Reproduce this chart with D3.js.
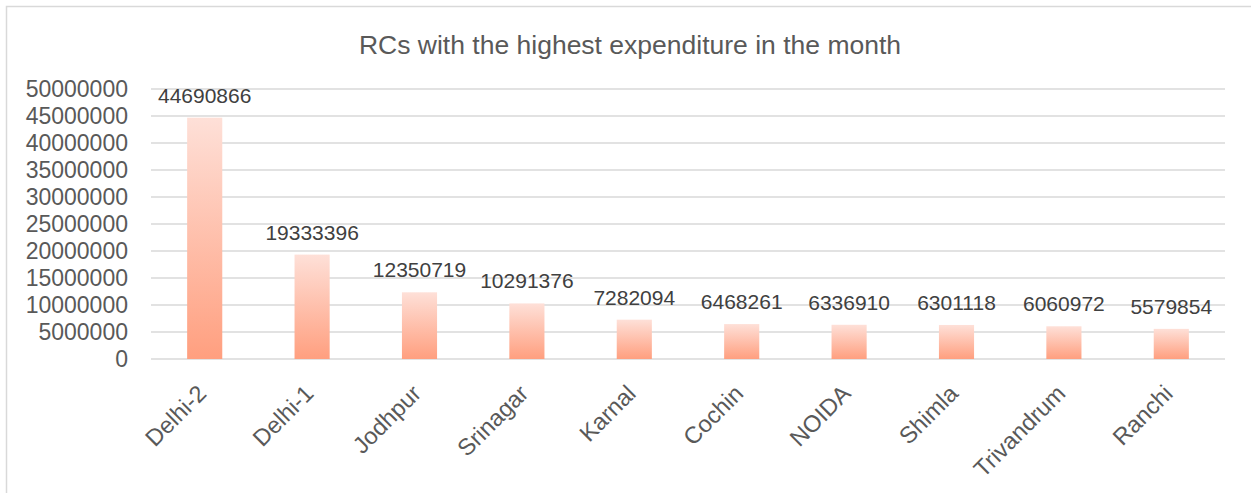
<!DOCTYPE html>
<html lang="en">
<head>
<meta charset="utf-8">
<script src="https://cdn.jsdelivr.net/npm/d3@7"></script>
<style>
  body { margin: 0; background: #fff; }
  text { font-family: "Liberation Sans", Arial, sans-serif; fill: #595959; }
</style>
</head>
<body>
<div id="chart"></div>
<script>
const categories = ["Delhi-2", "Delhi-1", "Jodhpur", "Srinagar", "Karnal", "Cochin", "NOIDA", "Shimla", "Trivandrum", "Ranchi"];
const values = [44690866, 19333396, 12350719, 10291376, 7282094, 6468261, 6336910, 6301118, 6060972, 5579854];
const yTicks = [0, 5000000, 10000000, 15000000, 20000000, 25000000, 30000000, 35000000, 40000000, 45000000, 50000000];

const width = 1251, height = 493;
const plot = { left: 151, right: 1225, top: 89, bottom: 359 };

const svg = d3.select("#chart").append("svg")
  .attr("width", width)
  .attr("height", height);

// gradient for bars
const grad = svg.append("defs").append("linearGradient")
  .attr("id", "barGrad")
  .attr("x1", 0).attr("y1", 0).attr("x2", 0).attr("y2", 1);
grad.append("stop").attr("offset", "0%").attr("stop-color", "#fee0d8");
grad.append("stop").attr("offset", "100%").attr("stop-color", "#ff9f7f");

// chart border
svg.append("rect")
  .attr("x", 6.5).attr("y", 6.5)
  .attr("width", width + 20).attr("height", height + 20)
  .attr("fill", "none")
  .attr("stroke", "#d9d9d9")
  .attr("stroke-width", 1.5);

// title
svg.append("text")
  .attr("x", 630).attr("y", 54)
  .attr("text-anchor", "middle")
  .style("font-size", "26.5px")
  .text("RCs with the highest expenditure in the month");

const x = d3.scaleBand()
  .domain(categories)
  .range([plot.left, plot.right])
  .paddingInner(0.673)
  .paddingOuter(0.3365);

const y = d3.scaleLinear()
  .domain([0, 50000000])
  .range([plot.bottom, plot.top]);

// gridlines
svg.append("g")
  .selectAll("line")
  .data(yTicks)
  .join("line")
  .attr("x1", plot.left).attr("x2", plot.right)
  .attr("y1", d => y(d)).attr("y2", d => y(d))
  .attr("stroke", "#d9d9d9")
  .attr("stroke-width", 1.5);

// y axis labels
const yAxis = svg.append("g")
  .attr("transform", `translate(${plot.left}, 0)`)
  .call(d3.axisLeft(y).tickValues(yTicks).tickFormat(d3.format("d")).tickSize(0).tickPadding(23));
yAxis.select(".domain").remove();
yAxis.selectAll("text")
  .style("font-size", "23px")
  .attr("font-family", null)
  .attr("fill", null);

// bars
svg.append("g")
  .selectAll("rect")
  .data(values)
  .join("rect")
  .attr("x", (d, i) => x(categories[i]))
  .attr("y", d => y(d))
  .attr("width", x.bandwidth())
  .attr("height", d => y(0) - y(d))
  .attr("fill", "url(#barGrad)");

// data labels
svg.append("g")
  .selectAll("text")
  .data(values)
  .join("text")
  .attr("x", (d, i) => x(categories[i]) + x.bandwidth() / 2)
  .attr("y", d => y(d) - 15)
  .attr("text-anchor", "middle")
  .style("font-size", "21px")
  .style("fill", "#404040")
  .text(d => d);

// x axis labels
const xAxis = svg.append("g")
  .attr("transform", `translate(0, ${plot.bottom})`)
  .call(d3.axisBottom(x).tickSize(0).tickPadding(0));
xAxis.select(".domain").remove();
xAxis.selectAll("text")
  .attr("font-family", null)
  .attr("fill", null)
  .style("font-size", "23.5px")
  .attr("text-anchor", "end")
  .attr("dy", null)
  .attr("y", 0)
  .attr("transform", "translate(3, 36) rotate(-45)");
</script>
</body>
</html>
